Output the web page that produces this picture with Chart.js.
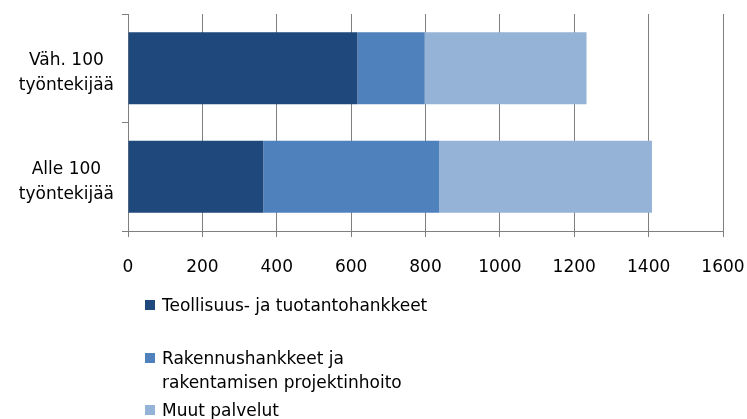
<!DOCTYPE html>
<html>
<head>
<meta charset="utf-8">
<script src="https://cdn.jsdelivr.net/npm/chart.js@4/dist/chart.umd.min.js"></script>
<style>
  html, body { margin: 0; padding: 0; background: #fff; }
  #wrap { position: relative; width: 747px; height: 419px; overflow: hidden; }
  #legend { position: absolute; left: 145px; top: 293px; font-family: "DejaVu Sans", sans-serif; font-size: 17px; color: #000; }
  .item { position: relative; padding-left: 17px; line-height: 24px; max-width: 285px; }
  .item span.box { position: absolute; left: 0; top: 7px; width: 10px; height: 10px; }
</style>
</head>
<body>
<div id="wrap">
  <canvas id="myChart" width="747" height="419"></canvas>
  <div id="legend"></div>
</div>
<script>
  // data
  const categories = [["Väh. 100", "työntekijää"], ["Alle 100", "työntekijää"]];
  const seriesNames = ["Teollisuus- ja tuotantohankkeet", "Rakennushankkeet ja rakentamisen projektinhoito", "Muut palvelut"];
  const teollisuus = [617, 364];
  const rakennus = [181, 473];
  const muut = [435, 572];
  const xTicks = [0, 200, 400, 600, 800, 1000, 1200, 1400, 1600];

  const colors = ['#1F497D', '#4F81BD', '#95B3D7'];
  const gridColor = '#7f7f7f';
  const font = { family: '"DejaVu Sans", sans-serif', size: 17 };

  let ctx = document.getElementById("myChart").getContext('2d');
  let myChart = new Chart(ctx, {
    type: 'bar',
    data: {
      labels: categories,
      datasets: [
        { label: seriesNames[0], data: teollisuus, backgroundColor: colors[0] },
        { label: seriesNames[1], data: rakennus, backgroundColor: colors[1] },
        { label: seriesNames[2], data: muut, backgroundColor: colors[2] }
      ]
    },
    options: {
      indexAxis: 'y',
      responsive: false,
      animation: false,
      layout: { padding: { top: 14, right: 24, left: 0, bottom: 0 } },
      datasets: { bar: { categoryPercentage: 1, barPercentage: 0.665, borderWidth: 0 } },
      plugins: { legend: { display: false }, tooltip: { enabled: false } },
      scales: {
        x: {
          stacked: true,
          min: 0,
          max: 1600,
          afterBuildTicks: (axis) => { axis.ticks = xTicks.map(v => ({ value: v })); },
          afterFit: (axis) => { axis.height = 188; axis.paddingLeft = 0; axis.paddingRight = 0; },
          grid: { color: gridColor, lineWidth: 1, tickLength: 6 },
          border: { color: gridColor, width: 1 },
          ticks: { color: '#000', font: font, padding: 20, maxRotation: 0, callback: (v) => String(v) }
        },
        y: {
          stacked: true,
          afterFit: (axis) => { axis.width = 128; axis.paddingTop = 0; axis.paddingBottom = 0; },
          grid: { drawOnChartArea: false, color: gridColor, tickLength: 6, offset: true },
          border: { color: gridColor, width: 1 },
          ticks: { color: '#000', font: Object.assign({ lineHeight: 1.47 }, font), crossAlign: 'center', padding: 8, labelOffset: 5 }
        }
      }
    }
  });

  // legend built from the chart's datasets
  const gaps = [29, 4, 0];
  const legend = document.getElementById('legend');
  myChart.data.datasets.forEach((ds, i) => {
    const div = document.createElement('div');
    div.className = 'item';
    div.style.marginBottom = gaps[i] + 'px';
    const box = document.createElement('span');
    box.className = 'box';
    box.style.background = ds.backgroundColor;
    div.appendChild(box);
    div.appendChild(document.createTextNode(ds.label));
    legend.appendChild(div);
  });
</script>
</body>
</html>
